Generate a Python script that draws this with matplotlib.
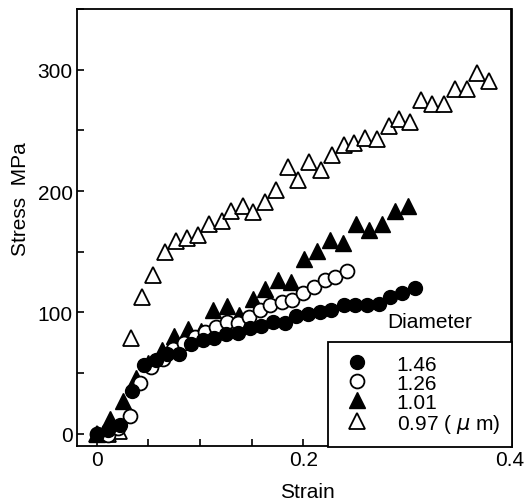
import numpy as np
import matplotlib
matplotlib.use("Agg")
import matplotlib.pyplot as plt
from matplotlib.ticker import MultipleLocator

plt.rcParams['font.family'] = ['Liberation Sans', 'DejaVu Sans']

# diameter 1.46 um
strain_146 = [0, 0.011, 0.023, 0.034, 0.046, 0.057, 0.068, 0.080, 0.091, 0.103,
              0.114, 0.125, 0.137, 0.148, 0.159, 0.171, 0.182, 0.193, 0.205, 0.216,
              0.227, 0.239, 0.250, 0.262, 0.273, 0.284, 0.296, 0.308]
stress_146 = [0, 3, 7, 35, 57, 61, 66, 66, 74, 77,
              79, 82, 83, 87, 89, 92, 91, 97, 99, 100,
              102, 106, 106, 106, 107, 113, 116, 120]

# diameter 1.26 um
strain_126 = [0, 0.011, 0.021, 0.032, 0.042, 0.053, 0.064, 0.074, 0.085, 0.095,
              0.105, 0.116, 0.126, 0.137, 0.147, 0.158, 0.168, 0.179, 0.189, 0.200,
              0.210, 0.221, 0.231, 0.242]
stress_126 = [0, -1, 5, 15, 42, 55, 62, 70, 75, 80,
              84, 88, 92, 91, 96, 102, 106, 109, 110, 116,
              121, 127, 129, 134]

# diameter 1.01 um
strain_101 = [0, 0.013, 0.026, 0.038, 0.050, 0.063, 0.075, 0.088, 0.101, 0.113,
              0.126, 0.138, 0.151, 0.163, 0.176, 0.188, 0.201, 0.213, 0.226, 0.238,
              0.251, 0.264, 0.276, 0.289, 0.301]
stress_101 = [0, 12, 27, 46, 58, 69, 81, 86, 85, 102,
              105, 98, 111, 119, 127, 125, 144, 151, 160, 157,
              173, 168, 173, 184, 188]

# diameter 0.97 um
strain_097 = [0, 0.011, 0.022, 0.033, 0.0435, 0.055, 0.066, 0.077, 0.087, 0.098,
              0.109, 0.121, 0.130, 0.142, 0.151, 0.1625, 0.174, 0.185, 0.195, 0.206,
              0.217, 0.228, 0.239, 0.249, 0.260, 0.271, 0.2825, 0.293, 0.3035, 0.314,
              0.325, 0.336, 0.347, 0.358, 0.3685, 0.380]
stress_097 = [0, 0, 2, 79, 113, 131, 150, 159, 161, 164,
              173, 175, 184, 188, 183, 191, 201, 220, 209, 224,
              217, 230, 238, 240, 244, 243, 254, 259, 257, 275,
              272, 272, 284, 284, 297, 291]

labels = ['1.46', '1.26', '1.01', '0.97 ( $\\mu$ m)']

fs = 15
fig = plt.figure(figsize=(5.32, 5.02), dpi=100)
ax = fig.add_axes([0.1447, 0.1096, 0.8158, 0.8704])

ax.plot(strain_097, stress_097, ls='none', marker='^', ms=11, mfc='white', mec='black', mew=1.3, label=labels[3], zorder=2)
ax.plot(strain_101, stress_101, ls='none', marker='^', ms=11, mfc='black', mec='black', mew=1.0, label=labels[2], zorder=3)
ax.plot(strain_126, stress_126, ls='none', marker='o', ms=10, mfc='white', mec='black', mew=1.3, label=labels[1], zorder=4)
ax.plot(strain_146, stress_146, ls='none', marker='o', ms=10, mfc='black', mec='black', mew=1.0, label=labels[0], zorder=5)

ax.set_xlim(-0.019, 0.401)
ax.set_ylim(-10, 350)
ax.xaxis.set_major_locator(MultipleLocator(0.2))
ax.xaxis.set_minor_locator(MultipleLocator(0.05))
ax.yaxis.set_major_locator(MultipleLocator(100))
ax.yaxis.set_minor_locator(MultipleLocator(50))
ax.xaxis.set_major_formatter(plt.FuncFormatter(lambda v, p: '0' if abs(v) < 1e-9 else f'{v:g}'))
ax.tick_params(which='both', direction='in', length=5, width=1.2, labelsize=fs, pad=3)
for s in ax.spines.values():
    s.set_linewidth(1.3)
ax.spines['right'].set_linewidth(2.0)

ax.set_xlabel('Strain', fontsize=fs)
ax.xaxis.set_label_coords(0.53, -0.082)
ax.set_ylabel('Stress  MPa', fontsize=fs)
ax.yaxis.set_label_coords(-0.108, 0.567)

h, l = ax.get_legend_handles_labels()
leg = ax.legend(h[::-1], l[::-1], loc='lower right', bbox_to_anchor=(1.003, -0.003),
                fontsize=fs, frameon=True, fancybox=False, borderpad=0.6,
                labelspacing=0.0, handletextpad=1.1, handlelength=1.6,
                borderaxespad=0.0, framealpha=1)
leg.get_frame().set_edgecolor('black')
leg.get_frame().set_linewidth(1.3)

ax.text(0.813, 0.284, 'Diameter', transform=ax.transAxes, fontsize=fs,
        ha='center', va='center')

fig.savefig('out.png', dpi=100)
